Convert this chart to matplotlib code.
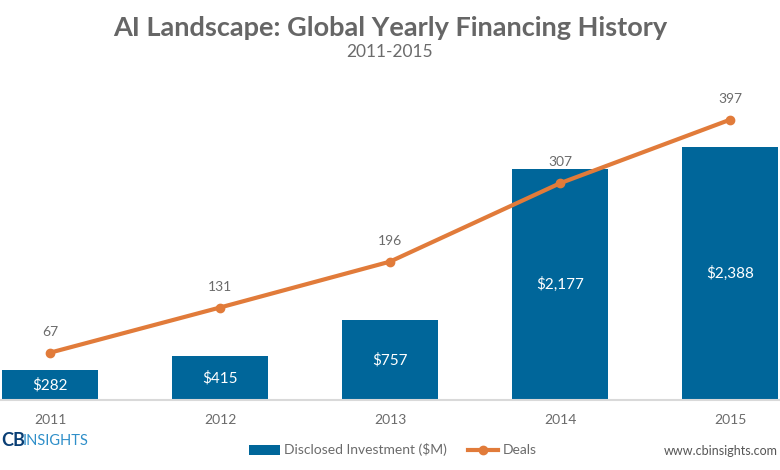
import matplotlib.pyplot as plt
import numpy as np

# Données
years = ['2011', '2012', '2013', '2014', '2015']
investment = [282, 415, 757, 2177, 2388]
deals = [67, 131, 196, 307, 397]

BAR_COLOR = '#00669a'
LINE_COLOR = '#e17b3a'
GRAY = '#6b6b6b'

plt.rcParams['font.family'] = ['Lato', 'DejaVu Sans']

fig = plt.figure(figsize=(7.8, 4.7), dpi=100)
# axe étendu : le graphique d'origine est rogné sur les côtés
ax = fig.add_axes([0, 70 / 470, 1, 300 / 470])
x = np.arange(len(years))

bars = ax.bar(x, investment, width=0.57, color=BAR_COLOR, zorder=2,
              label='Disclosed Investment ($M)')
ax.set_xlim(-50 / 170, 730 / 170)
ax.set_ylim(0, 300 / 0.106)

for xi, v in zip(x, investment):
    ax.text(xi, v / 2, f"${v:,}", ha='center', va='center',
            color='white', fontsize=11)

ax2 = ax.twinx()
ax2.set_ylim(0, 300 / 0.706)
line, = ax2.plot(x, deals, color=LINE_COLOR, linewidth=3, marker='o',
                 markersize=6, label='Deals', zorder=3)
for xi, d in zip(x, deals):
    ax2.annotate(str(d), (xi, d), xytext=(0, 15), textcoords='offset points',
                 ha='center', va='center', color=GRAY, fontsize=10)

for a in (ax, ax2):
    for s in a.spines.values():
        s.set_visible(False)
    a.set_yticks([])
ax.spines['bottom'].set_visible(True)
ax.spines['bottom'].set_color('#d9d9d9')
ax.spines['bottom'].set_linewidth(1.5)
ax.set_xticks(x)
ax.set_xticklabels(years, color=GRAY, fontsize=10)
ax.tick_params(axis='x', length=0, pad=10)

# Titres
fig.text(0.5, 1 - 28 / 470, "AI Landscape: Global Yearly Financing History",
         ha='center', va='center', fontsize=19.5, fontweight='bold', color='#666666')
fig.text(0.5, 1 - 52 / 470, "2011-2015", ha='center', va='center',
         fontsize=12.5, color=GRAY)

# Légende
fig.legend(handles=[bars, line], loc='center', bbox_to_anchor=(393 / 780, 1 - 450 / 470),
           ncol=2, frameon=False, fontsize=10, handlelength=2.2,
           columnspacing=1.5, handletextpad=0.3, labelcolor=GRAY)

# Logo et site
fig.text(1 / 780, 1 - 441 / 470, "CB", ha='left', va='center', fontsize=13,
         fontweight='bold', color='#0a3f75')
fig.text(23 / 780, 1 - 441 / 470, "INSIGHTS", ha='left', va='center',
         fontsize=10.5, color='#2f8fc9')
fig.text(778 / 780, 1 - 451 / 470, "www.cbinsights.com", ha='right', va='center',
         fontsize=9, color='#555555')

fig.savefig('out.png', dpi=100)
